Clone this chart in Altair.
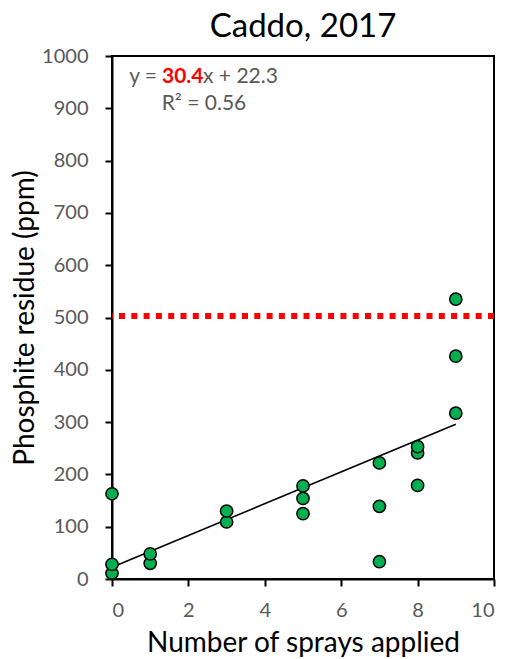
import altair as alt
import pandas as pd

# Phosphite residue measured after each number of sprays (Caddo, 2017)
sprays = [0, 0, 0, 1, 1, 3, 3, 5, 5, 5, 7, 7, 7, 8, 8, 8, 9, 9, 9]
residue = [11, 28, 163, 30, 48, 109, 130, 125, 154, 178, 33, 139, 222, 179, 241, 253, 317, 426, 535]

# Linear fit as reported on the chart
slope = 30.4
intercept = 22.3
r_squared = 0.56
fit_x = [0, 9]

# Residue limit shown as a dotted reference line
limit = 503

FONT = "Lato"
GRAY = "#595959"

points_df = pd.DataFrame({"sprays": sprays, "residue": residue})
fit_df = pd.DataFrame({"sprays": fit_x, "residue": [slope * v + intercept for v in fit_x]})
limit_df = pd.DataFrame({"limit": [limit]})

x_scale = alt.Scale(domain=[0, 10], nice=False, zero=True)
y_scale = alt.Scale(domain=[0, 1000], nice=False)

x_axis = alt.Axis(values=[0, 2, 4, 6, 8, 10], title="Number of sprays applied", grid=False, format="d")
y_axis = alt.Axis(values=list(range(0, 1001, 100)), title="Phosphite residue (ppm)", grid=False, format="d")

limit_rule = alt.Chart(limit_df).mark_rule(
    color="#FF0000", strokeWidth=6, strokeDash=[6, 6.3]
).encode(y=alt.Y("limit:Q", scale=y_scale, axis=y_axis))

fit_line = alt.Chart(fit_df).mark_line(color="black", strokeWidth=1.6).encode(
    x=alt.X("sprays:Q", scale=x_scale, axis=x_axis),
    y=alt.Y("residue:Q", scale=y_scale, axis=y_axis),
)

points = alt.Chart(points_df).mark_point(
    filled=True, fill="#00B050", stroke="black", strokeWidth=1.5, size=150, opacity=1, shape="circle"
).encode(
    x=alt.X("sprays:Q", scale=x_scale, axis=x_axis),
    y=alt.Y("residue:Q", scale=y_scale, axis=y_axis),
)

# Equation label pieces: plain prefix, bold red slope, plain remainder
text_base = dict(font=FONT, fontSize=21, baseline="middle")
eq_left = alt.Chart(pd.DataFrame({"t": ["y ="]})).mark_text(
    align="right", color=GRAY, **text_base
).encode(x=alt.value(45), y=alt.value(21), text="t:N")
eq_slope = alt.Chart(pd.DataFrame({"t": [f"{slope}"]})).mark_text(
    align="left", color="#FF0000", fontWeight="bold", **text_base
).encode(x=alt.value(50), y=alt.value(21), text="t:N")
eq_right = alt.Chart(pd.DataFrame({"t": [f"x + {intercept}"]})).mark_text(
    align="left", color=GRAY, **text_base
).encode(x=alt.value(91), y=alt.value(21), text="t:N")
eq_r2 = alt.Chart(pd.DataFrame({"t": [f"R² = {r_squared}"]})).mark_text(
    align="center", color=GRAY, **text_base
).encode(x=alt.value(92), y=alt.value(48), text="t:N")

chart = alt.layer(
    limit_rule, fit_line, points, eq_left, eq_slope, eq_right, eq_r2
).properties(
    width=382,
    height=523,
    autosize=alt.AutoSizeParams(type="none"),
    padding={"left": 112, "top": 56, "right": 12, "bottom": 80},
    title=alt.Title("Caddo, 2017", font=FONT, fontSize=33, fontWeight="normal",
                    color="black", offset=2),
    background="white",
).configure_view(
    stroke="black", strokeWidth=2
).configure_axis(
    domainColor="black", domainWidth=2,
    tickColor="black", tickWidth=2, tickSize=7,
    labelFont=FONT, labelFontSize=20, labelColor=GRAY,
    titleFont=FONT, titleFontSize=28, titleColor="black", titleFontWeight="normal",
).configure_axisX(
    titlePadding=9, labelPadding=14,
).configure_axisY(
    titlePadding=2, labelPadding=17,
)

chart.save("out.html", embed_options={"renderer": "svg", "actions": False})
